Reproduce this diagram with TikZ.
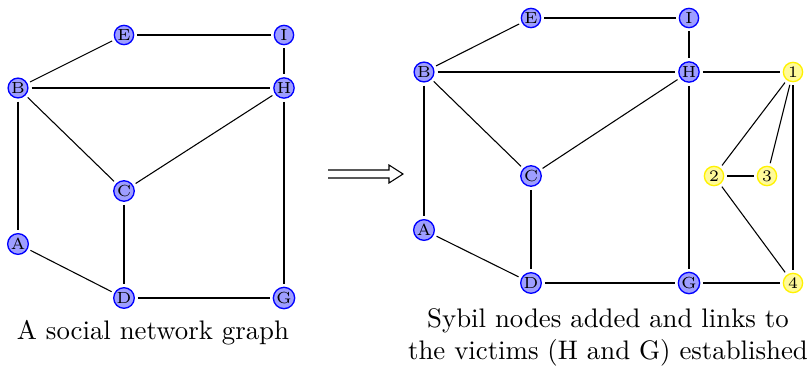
\documentclass[tikz,border=0pt]{standalone}
\begin{document}
\begin{tikzpicture}[x=0.373pt,y=-0.373pt,
  bnode/.style={circle,draw=blue,line width=0.5pt,fill=blue!38,inner sep=0.3pt,minimum size=7.2pt,font=\fontsize{6}{6}\selectfont},
  ynode/.style={circle,draw=yellow,line width=0.5pt,fill=yellow!40,inner sep=0.3pt,minimum size=7.2pt,font=\fontsize{6}{6}\selectfont},
  edge/.style={draw=black,shorten <=1.1pt,shorten >=1.1pt}]
\useasboundingbox (0,0) rectangle (809,367);
% left graph
\node[bnode] (lE) at (124,35) {E};
\node[bnode] (lI) at (284,35) {I};
\node[bnode] (lB) at (18,88) {B};
\node[bnode] (lH) at (284,88) {H};
\node[bnode] (lC) at (124,191) {C};
\node[bnode] (lA) at (18,244) {A};
\node[bnode] (lD) at (124,298) {D};
\node[bnode] (lG) at (284,298) {G};
\foreach \a/\b in {lE/lI,lE/lB,lB/lH,lI/lH,lB/lC,lB/lA,lH/lC,lH/lG,lA/lD}
  \draw[edge] (\a) -- (\b);
\foreach \a/\b in {lC/lD,lD/lG}
  \draw[edge,semithick] (\a) -- (\b);
\node (lcap) at (153,333) {A social network graph};
% arrow
\draw[line join=miter] (328,170) -- (389,170) -- (389,165) -- (403,174) -- (389,183) -- (389,178) -- (328,178);
% right graph
\node[bnode] (rE) at (531,18) {E};
\node[bnode] (rI) at (689,18) {I};
\node[bnode] (rB) at (424,72) {B};
\node[bnode] (rH) at (689,72) {H};
\node[ynode] (r1) at (793,72) {1};
\node[bnode] (rC) at (531,176) {C};
\node[ynode] (r2) at (714,176) {2};
\node[ynode] (r3) at (767,176) {3};
\node[bnode] (rA) at (424,230) {A};
\node[bnode] (rD) at (531,283) {D};
\node[bnode] (rG) at (689,283) {G};
\node[ynode] (r4) at (793,283) {4};
\foreach \a/\b in {rE/rI,rE/rB,rB/rH,rI/rH,rB/rC,rB/rA,rH/rC,rH/rG,rC/rD,rA/rD,rH/r1,r1/r2,r1/r3,r2/r3,r2/r4,r1/r4,rG/r4}
  \draw[edge] (\a) -- (\b);
\draw[edge,semithick] (rD) -- (rG);
\node (rcap) at (608,337) [align=center] {Sybil nodes added and links to\\the victims (H and G) established};
\end{tikzpicture}
\end{document}
